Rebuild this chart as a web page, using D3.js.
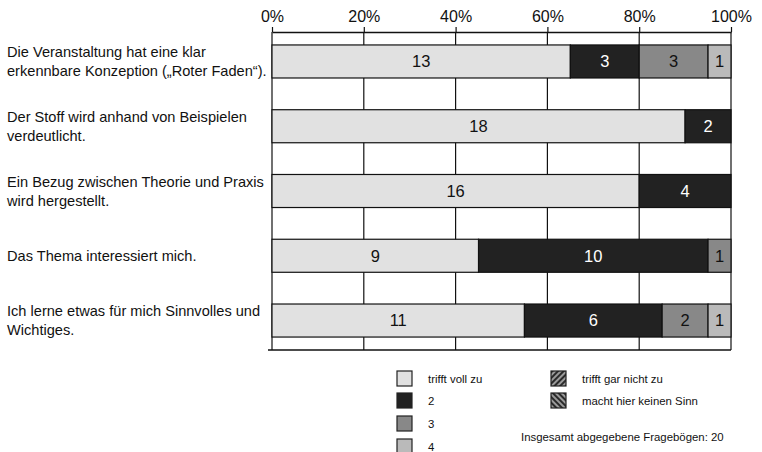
<!DOCTYPE html>
<html>
<head>
<meta charset="utf-8">
<script src="https://cdn.jsdelivr.net/npm/d3@7/dist/d3.min.js"></script>
<style>
  html, body { margin: 0; padding: 0; background: #fff; }
  svg { display: block; font-family: "Liberation Sans", Arial, sans-serif; }
</style>
</head>
<body>
<svg id="chart" width="762" height="452"></svg>
<script>
// Survey statements (each entry = lines of the label)
const statements = [
  ["Die Veranstaltung hat eine klar", "erkennbare Konzeption (\u201eRoter Faden\u201c)."],
  ["Der Stoff wird anhand von Beispielen", "verdeutlicht."],
  ["Ein Bezug zwischen Theorie und Praxis", "wird hergestellt."],
  ["Das Thema interessiert mich."],
  ["Ich lerne etwas f\u00fcr mich Sinnvolles und", "Wichtiges."]
];

// Answer counts per rating
const trifftVollZu = [13, 18, 16, 9, 11];
const rating2      = [3, 2, 4, 10, 6];
const rating3      = [3, 0, 0, 1, 2];
const rating4      = [1, 0, 0, 0, 1];
const trifftGarNichtZu = [0, 0, 0, 0, 0];
const keinSinn     = [0, 0, 0, 0, 0];

const seriesNames = ["trifft voll zu", "2", "3", "4", "trifft gar nicht zu", "macht hier keinen Sinn"];
const tickValues = [0, 0.2, 0.4, 0.6, 0.8, 1.0];
const totalForms = 20;

const svg = d3.select("#chart");
const defs = svg.append("defs");

function hatch(id, angle) {
  const p = defs.append("pattern")
    .attr("id", id).attr("patternUnits", "userSpaceOnUse")
    .attr("width", 4).attr("height", 4)
    .attr("patternTransform", `rotate(${angle})`);
  p.append("rect").attr("width", 4).attr("height", 4).attr("fill", "#9a9a9a");
  p.append("rect").attr("width", 2).attr("height", 4).attr("fill", "#2a2a2a");
}
hatch("hatchA", 45);
hatch("hatchB", -45);

const fills = ["#e1e1e1", "#222222", "#888888", "#bababa", "url(#hatchA)", "url(#hatchB)"];
const textFills = ["#111", "#fff", "#111", "#111", "#fff", "#fff"];

const seriesValues = [trifftVollZu, rating2, rating3, rating4, trifftGarNichtZu, keinSinn];
const rows = statements.map((s, i) => {
  const vals = seriesValues.map(v => v[i]);
  const total = d3.sum(vals);
  let acc = 0;
  return {
    idx: i,
    segments: vals.map((v, k) => {
      const seg = { k, v, x0: acc / total, x1: (acc + v) / total };
      acc += v;
      return seg;
    }).filter(s => s.v > 0)
  };
});

const x = d3.scaleLinear().domain([0, 1]).range([272, 731]);
const y = d3.scaleBand().domain(d3.range(statements.length))
  .range([32, 350]).paddingInner(0.49).paddingOuter(0.2);

// Vertical gridlines
svg.append("g").selectAll("line").data(tickValues).join("line")
  .attr("x1", d => x(d)).attr("x2", d => x(d))
  .attr("y1", 32).attr("y2", 350)
  .attr("stroke", "#111").attr("stroke-width", 1.2);

// Top axis
const axis = d3.axisTop(x).tickValues(tickValues)
  .tickFormat(d => Math.round(d * 100) + "%")
  .tickSize(5).tickSizeOuter(0);
const ag = svg.append("g").attr("transform", "translate(0,32)").call(axis);
ag.select(".domain").attr("stroke", "#111").attr("stroke-width", 1.4);
ag.selectAll(".tick line").attr("stroke", "#111").attr("stroke-width", 1.2);
ag.selectAll(".tick text").attr("font-size", 16).attr("fill", "#111")
  .attr("font-family", "Liberation Sans, Arial, sans-serif").attr("dy", "-0.1em");

// Bottom baseline
svg.append("line").attr("x1", 268).attr("x2", 731).attr("y1", 350).attr("y2", 350)
  .attr("stroke", "#111").attr("stroke-width", 1.4);

// Stacked bars
const rowG = svg.append("g").selectAll("g").data(rows).join("g")
  .attr("transform", d => `translate(0,${y(d.idx)})`);
rowG.selectAll("rect").data(d => d.segments).join("rect")
  .attr("x", d => x(d.x0)).attr("width", d => x(d.x1) - x(d.x0))
  .attr("y", 0).attr("height", y.bandwidth())
  .attr("fill", d => fills[d.k]).attr("stroke", "#111").attr("stroke-width", 1.2);
rowG.selectAll("text").data(d => d.segments).join("text")
  .attr("x", d => (x(d.x0) + x(d.x1)) / 2)
  .attr("y", y.bandwidth() / 2).attr("dy", "0.36em")
  .attr("text-anchor", "middle").attr("font-size", 16.5)
  .attr("fill", d => textFills[d.k]).text(d => d.v);

// Statement labels
const lab = svg.append("g").selectAll("text").data(statements).join("text")
  .attr("x", 7).attr("font-size", 14.6).attr("fill", "#111")
  .attr("y", (d, i) => y(i) + y.bandwidth() / 2 - (d.length - 1) * 9.5);
lab.selectAll("tspan").data(d => d).join("tspan")
  .attr("x", 7).attr("dy", (d, i) => i === 0 ? "0.36em" : 19).text(d => d);

// Legend
const legend = svg.append("g").attr("font-size", 11.4).attr("fill", "#111");
const legendPos = [
  [397, 371], [397, 393], [397, 416], [397, 439],
  [551, 371], [551, 393]
];
seriesNames.forEach((name, k) => {
  const [lx, ly] = legendPos[k];
  legend.append("rect").attr("x", lx).attr("y", ly).attr("width", 15).attr("height", 15)
    .attr("fill", fills[k]).attr("stroke", "#222").attr("stroke-width", 1.2);
  legend.append("text").attr("x", lx + 31).attr("y", ly + 8).attr("dy", "0.36em").text(name);
});
legend.append("text").attr("x", 521).attr("y", 437).attr("dy", "0.36em")
  .text("Insgesamt abgegebene Frageb\u00f6gen: " + totalForms);
</script>
</body>
</html>
